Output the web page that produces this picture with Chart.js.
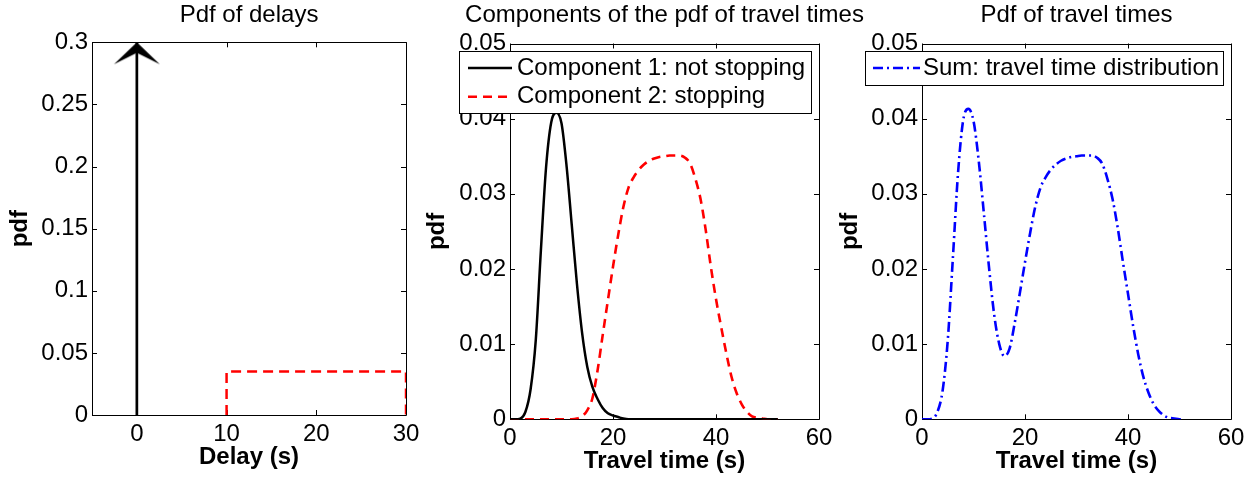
<!DOCTYPE html>
<html>
<head>
<meta charset="utf-8">
<script src="https://cdn.jsdelivr.net/npm/chart.js@4.4.1/dist/chart.umd.min.js"></script>
<style>
html,body{margin:0;padding:0;background:#fff;width:1253px;height:481px;overflow:hidden;}
canvas{position:absolute;left:0;top:0;}
</style>
</head>
<body>
<canvas id="c1" width="1253" height="481"></canvas>
<canvas id="c2" width="1253" height="481"></canvas>
<canvas id="c3" width="1253" height="481"></canvas>
<script>
const FONT = "'Liberation Sans', Arial, Helvetica, sans-serif";

// ---------- Panel 1: Pdf of delays ----------
const delayTicks = [0, 10, 20, 30];
const delayTickLabels = ['0', '10', '20', '30'];
const pdfTicks1 = [0, 0.05, 0.1, 0.15, 0.2, 0.25, 0.3];
const pdfTickLabels1 = ['0', '0.05', '0.1', '0.15', '0.2', '0.25', '0.3'];
const impulseDelay = [0, 0];
const impulsePdf = [0, 0.3];
const uniformDelay = [10, 10, 30, 30];
const uniformPdf = [0, 0.035, 0.035, 0];

// ---------- Panels 2 & 3: travel times ----------
const travelTime = [0,1,2,3,4,5,6,7,8,9,10,11,12,13,14,15,16,17,18,19,20,21,22,23,24,25,
  26,27,28,29,30,31,32,33,34,35,36,37,38,39,40,41,42,43,44,45,46,47,48,49,50,51,52];
const comp1NotStopping = [0,0,0.0001,0.0010,0.0040,0.0105,0.0225,0.0335,0.0395,0.0408,
  0.0394,0.0336,0.0258,0.0180,0.0115,0.0070,0.0043,0.0027,0.0015,0.0008,0.0005,0.0003,0.0001,
  0,0,0,0,0,0,0,0,0,0,0,0,0,0,0,0,0,0,0,0,0,0,0,0,0,0,0,0,0,0];
const comp2Stopping = [0,0,0,0,0,0,0,0,0,0,0,0,0,0.0001,0.0004,0.0012,0.0028,0.0065,0.0112,
  0.0158,0.0203,0.0245,0.0282,0.0308,0.0322,0.0332,0.0339,0.0344,0.0347,0.0349,0.0350,0.0351,
  0.0351,0.0351,0.0348,0.0340,0.0320,0.0293,0.0252,0.0203,0.0160,0.0123,0.0088,0.0057,0.0035,
  0.0020,0.0010,0.0004,0.0002,0.0001,0,0,0];
const sumTime = [0,1,2,3,4,5,6,7,8,9,10,11,12,13,14,15,16,17,18,19,20,21,22,23,24,25,
  26,27,28,29,30,31,32,33,34,35,36,37,38,39,40,41,42,43,44,45,46,47,48,49,50,51];
const sumTravel = [0,0,0.0001,0.0010,0.0038,0.0105,0.0215,0.0328,0.0398,0.0413,0.0397,0.0345,
  0.0275,0.0203,0.0140,0.0100,0.0084,0.0094,0.0128,0.0168,0.0209,0.0248,0.0283,0.0308,0.0322,
  0.0332,0.0339,0.0344,0.0347,0.0349,0.0350,0.0351,0.0351,0.0351,0.0348,0.0340,0.0320,0.0293,
  0.0255,0.0210,0.0167,0.0124,0.0086,0.0056,0.0035,0.0020,0.0011,0.0005,0.0002,0.0001,0,0];
const timeTicks = [0, 20, 40, 60];
const timeTickLabels = ['0', '20', '40', '60'];
const pdfTicks2 = [0, 0.01, 0.02, 0.03, 0.04, 0.05];
const pdfTickLabels2 = ['0', '0.01', '0.02', '0.03', '0.04', '0.05'];

const pts = (xs, ys) => xs.map((x, i) => ({x: x, y: ys[i]}));

// arrow head drawn as a point style image (tip at image centre)
const arrowHead = (() => {
  const c = document.createElement('canvas');
  c.width = 48; c.height = 48;
  const g = c.getContext('2d');
  g.fillStyle = '#000';
  g.beginPath();
  g.moveTo(24, 24); g.lineTo(47, 46); g.lineTo(24, 34.5); g.lineTo(1, 46);
  g.closePath(); g.fill();
  return c;
})();

// axis box with inward ticks on all four sides
const framePlugin = {
  id: 'frame',
  beforeDatasetsDraw(chart) {
    const {ctx, chartArea: a, scales: {x, y}} = chart;
    ctx.save();
    ctx.strokeStyle = '#000';
    ctx.lineWidth = 1;
    ctx.beginPath();
    ctx.rect(Math.round(a.left) + 0.5, Math.round(a.top) + 0.5,
             Math.round(a.right) - Math.round(a.left), Math.round(a.bottom) - Math.round(a.top));
    const L = 5;
    x.ticks.forEach(t => {
      const px = Math.round(x.getPixelForValue(t.value)) + 0.5;
      ctx.moveTo(px, a.bottom); ctx.lineTo(px, a.bottom - L);
      ctx.moveTo(px, a.top); ctx.lineTo(px, a.top + L);
    });
    y.ticks.forEach(t => {
      const py = Math.round(y.getPixelForValue(t.value)) + 0.5;
      ctx.moveTo(a.left, py); ctx.lineTo(a.left + L, py);
      ctx.moveTo(a.right, py); ctx.lineTo(a.right - L, py);
    });
    ctx.stroke();
    ctx.restore();
  }
};

// panel title centred over the plot area (no width squeezing)
const titlePlugin = {
  id: 'panelTitle',
  afterDraw(chart, args, opts) {
    if (!opts || !opts.text) return;
    const ctx = chart.ctx, a = chart.chartArea;
    ctx.save();
    ctx.font = '24px ' + FONT;
    ctx.fillStyle = '#000';
    ctx.textAlign = 'center';
    ctx.textBaseline = 'middle';
    ctx.fillText(opts.text, (a.left + a.right) / 2, opts.y);
    ctx.restore();
  }
};

// boxed legend drawn inside the plot, like the original
const legendPlugin = {
  id: 'boxLegend',
  afterDraw(chart, args, opts) {
    if (!opts || !opts.box) return;
    const ctx = chart.ctx, b = opts.box;
    ctx.save();
    ctx.fillStyle = '#fff';
    ctx.fillRect(b.x, b.y, b.w, b.h);
    ctx.strokeStyle = '#000'; ctx.lineWidth = 1;
    ctx.strokeRect(b.x + 0.5, b.y + 0.5, b.w, b.h);
    chart.data.datasets.forEach((ds, i) => {
      const yy = b.firstRowY + i * b.rowH;
      ctx.strokeStyle = ds.borderColor;
      ctx.lineWidth = ds.borderWidth;
      ctx.setLineDash(ds.borderDash || []);
      ctx.beginPath(); ctx.moveTo(b.lineX0, yy); ctx.lineTo(b.lineX1, yy); ctx.stroke();
      ctx.setLineDash([]);
      ctx.fillStyle = '#000';
      ctx.font = '24px ' + FONT;
      ctx.textBaseline = 'middle'; ctx.textAlign = 'left';
      ctx.fillText(ds.label, b.textX, yy);
    });
    ctx.restore();
  }
};

function panel(id, s) {
  const tickFont = {family: FONT, size: 24, lineHeight: 1.2};
  const labFont = {family: FONT, size: 24, weight: 'bold', lineHeight: 1.2};
  return new Chart(document.getElementById(id), {
    type: 'line',
    data: {datasets: s.datasets},
    plugins: [framePlugin, titlePlugin, legendPlugin],
    options: {
      responsive: false, animation: false, events: [],
      layout: {padding: s.pad},
      scales: {
        x: {
          type: 'linear', min: s.xMin, max: s.xMax,
          afterFit(sc) { sc.height = s.xH; },
          afterBuildTicks(sc) { sc.ticks = s.xTicks.map(v => ({value: v})); },
          ticks: {autoSkip: false, maxRotation: 0, padding: 4.6, font: tickFont, color: '#000',
                  callback: (v, i) => s.xLabels[i]},
          grid: {display: false, drawTicks: false},
          border: {display: false},
          title: {display: true, text: s.xTitle, font: labFont, color: '#000', padding: 0}
        },
        y: {
          type: 'linear', min: s.yMin, max: s.yMax,
          afterFit(sc) { sc.width = s.yW; },
          afterBuildTicks(sc) { sc.ticks = s.yTicks.map(v => ({value: v})); },
          ticks: {autoSkip: false, padding: 4, font: tickFont, color: '#000',
                  callback: (v, i) => s.yLabels[i]},
          grid: {display: false, drawTicks: false},
          border: {display: false},
          title: {display: true, text: 'pdf', font: labFont, color: '#000', padding: 0}
        }
      },
      plugins: {
        legend: {display: false},
        tooltip: {enabled: false},
        title: {display: false},
        panelTitle: {text: s.title, y: 15.3},
        boxLegend: s.legend ? {box: s.legend} : {}
      }
    }
  });
}

panel('c1', {
  title: 'Pdf of delays', xTitle: 'Delay (s)',
  pad: {left: 5.6, right: 847, top: 42.3, bottom: 9.2}, yW: 86.4, xH: 56.8,
  xMin: -5, xMax: 30, yMin: 0, yMax: 0.3,
  xTicks: delayTicks, xLabels: delayTickLabels, yTicks: pdfTicks1, yLabels: pdfTickLabels1,
  datasets: [
    {label: 'impulse', data: pts(impulseDelay, impulsePdf), borderColor: '#000', borderWidth: 2.7,
     tension: 0, pointStyle: arrowHead, pointRadius: ctx => ctx.dataIndex === 1 ? 5 : 0},
    {label: 'uniform', data: pts(uniformDelay, uniformPdf), borderColor: '#ff0000', borderWidth: 2.5,
     borderDash: [10, 6], tension: 0, pointRadius: 0}
  ]
});

panel('c2', {
  title: 'Components of the pdf of travel times', xTitle: 'Travel time (s)',
  pad: {left: 422.6, right: 434, top: 43.5, bottom: 4.9}, yW: 87.4, xH: 56.8,
  xMin: 0, xMax: 60, yMin: 0, yMax: 0.05,
  xTicks: timeTicks, xLabels: timeTickLabels, yTicks: pdfTicks2, yLabels: pdfTickLabels2,
  legend: {x: 459, y: 51, w: 352, h: 62, firstRowY: 68, rowH: 28.7, lineX0: 468, lineX1: 512, textX: 517},
  datasets: [
    {label: 'Component 1: not stopping', data: pts(travelTime, comp1NotStopping), borderColor: '#000',
     borderWidth: 2.5, cubicInterpolationMode: 'monotone', pointRadius: 0},
    {label: 'Component 2: stopping', data: pts(travelTime, comp2Stopping), borderColor: '#ff0000',
     borderWidth: 2.6, borderDash: [9, 6], cubicInterpolationMode: 'monotone', pointRadius: 0}
  ]
});

panel('c3', {
  title: 'Pdf of travel times', xTitle: 'Travel time (s)',
  pad: {left: 835.6, right: 22, top: 43.5, bottom: 4.9}, yW: 86.4, xH: 56.8,
  xMin: 0, xMax: 60, yMin: 0, yMax: 0.05,
  xTicks: timeTicks, xLabels: timeTickLabels, yTicks: pdfTicks2, yLabels: pdfTickLabels2,
  legend: {x: 865, y: 51, w: 358, h: 34, firstRowY: 68, rowH: 28.7, lineX0: 873, lineX1: 920, textX: 923},
  datasets: [
    {label: 'Sum: travel time distribution', data: pts(sumTime, sumTravel), borderColor: '#0000ff',
     borderWidth: 2.6, borderDash: [10, 4, 2, 4], cubicInterpolationMode: 'monotone', pointRadius: 0}
  ]
});
</script>
</body>
</html>
